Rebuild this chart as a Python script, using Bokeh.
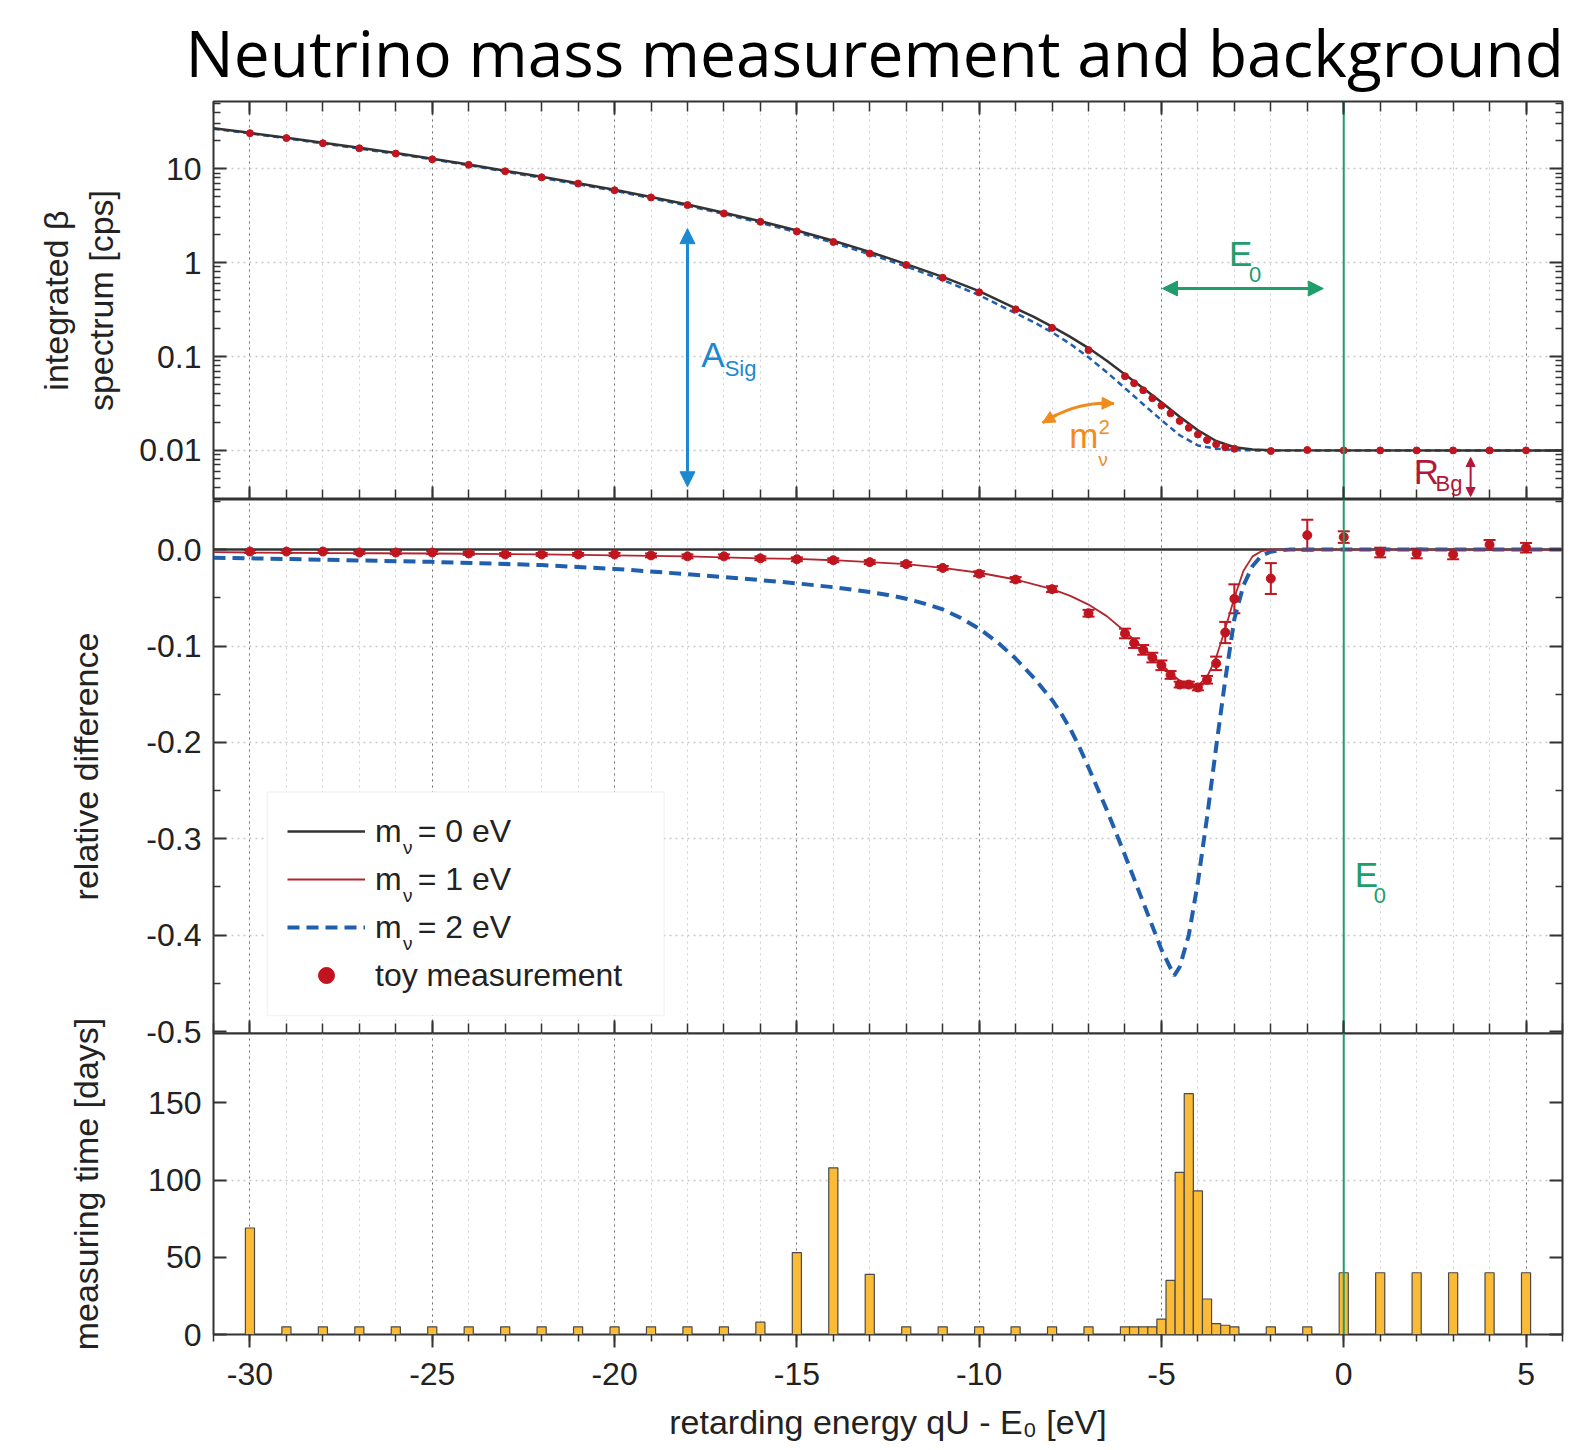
from bokeh.plotting import figure
from bokeh.layouts import column
from bokeh.models import (Range1d, LogAxis, LinearAxis, FixedTicker, Span, Arrow,
                          NormalHead, Label, Legend, LegendItem, Whisker, TeeHead, BoxAnnotation,
                          ColumnDataSource, CustomJSTickFormatter, Grid)
from bokeh.embed import file_html
from bokeh.resources import INLINE

# ---------------- data ----------------
# measurement points: retarding energy qU - E0 [eV]
meas_x = [-30, -29, -28, -27, -26, -25, -24, -23, -22, -21, -20, -19, -18, -17, -16,
          -15, -14, -13, -12, -11, -10, -9, -8, -7,
          -6, -5.75, -5.5, -5.25, -5, -4.75, -4.5, -4.25, -4, -3.75, -3.5, -3.25, -3,
          -2, -1, 0, 1, 2, 3, 4, 5]
# measuring time [days]
meas_time = [69, 5, 5, 5, 5, 5, 5, 5, 5, 5, 5, 5, 5, 5, 8,
             53, 108, 39, 5, 5, 5, 5, 5, 5,
             5, 5, 5, 5, 10, 35, 105, 156, 93, 23, 7, 6, 5,
             5, 5, 40, 40, 40, 40, 40, 40]
# toy measurement: integrated rate [cps]
meas_rate = [23.9, 21.2, 18.7, 16.5, 14.5, 12.6, 11.0, 9.4, 8.1, 6.95, 5.9, 4.94, 4.1, 3.34, 2.72,
             2.15, 1.66, 1.25, 0.945, 0.69, 0.483, 0.318, 0.202, 0.117,
             0.0616, 0.052, 0.0437, 0.036, 0.030, 0.0248, 0.0206, 0.0174, 0.0148, 0.0129, 0.0116, 0.0108, 0.0104,
             0.00985, 0.0101, 0.0100, 0.0100, 0.0100, 0.0100, 0.0100, 0.0100]
# toy measurement: relative difference and its error
meas_rel = [-0.002, -0.002, -0.002, -0.003, -0.003, -0.003, -0.004, -0.005, -0.005, -0.005, -0.005, -0.006, -0.007, -0.007, -0.009,
            -0.010, -0.011, -0.013, -0.015, -0.019, -0.025, -0.031, -0.041, -0.066,
            -0.087, -0.097, -0.104, -0.112, -0.120, -0.130, -0.140, -0.140, -0.143, -0.135, -0.118, -0.086, -0.051,
            -0.030, 0.015, 0.013, -0.003, -0.004, -0.005, 0.005, 0.002]
meas_err = [0.0015, 0.0015, 0.0015, 0.0015, 0.0015, 0.0015, 0.0015, 0.0015, 0.0015, 0.0015, 0.0015, 0.002, 0.002, 0.002, 0.002,
            0.002, 0.002, 0.002, 0.002, 0.002, 0.0025, 0.0025, 0.003, 0.0035,
            0.005, 0.005, 0.005, 0.005, 0.005, 0.004, 0.003, 0.003, 0.003, 0.004, 0.007, 0.011, 0.015,
            0.016, 0.016, 0.006, 0.005, 0.005, 0.005, 0.005, 0.005]

# integrated spectrum, m_nu = 0 eV
m0_top_x = [-31, -30, -29, -28, -27, -26, -25, -24, -23, -22, -21, -20, -19, -18, -17, -16, -15, -14, -13, -12, -11, -10, -9,
            -8.5, -8, -7.5, -7, -6.5, -6, -5.5, -5, -4.5, -4, -3.5, -3, -2.5, -2, 6]
m0_top_y = [27.0, 24.1, 21.4, 18.9, 16.7, 14.7, 12.8, 11.1, 9.5, 8.2, 7.0, 5.97, 5.0, 4.15, 3.4, 2.76, 2.2, 1.71, 1.3, 0.965, 0.705, 0.497, 0.326,
            0.264, 0.208, 0.162, 0.123, 0.090, 0.0645, 0.046, 0.0325, 0.0228, 0.0164, 0.0126, 0.0108, 0.0102, 0.01005, 0.0100]
# integrated spectrum, m_nu = 2 eV
m2_top_x = [-31, -30, -29, -28, -27, -26, -25, -24, -23, -22, -21, -20, -19, -18, -17, -16, -15, -14, -13, -12, -11, -10, -9,
            -8.5, -8, -7.5, -7, -6.5, -6, -5.5, -5, -4.5, -4, -3.5, -3, -2.5, 6]
m2_top_y = [26.7, 23.8, 21.1, 18.6, 16.4, 14.4, 12.6, 10.9, 9.3, 8.0, 6.85, 5.83, 4.87, 4.03, 3.3, 2.66, 2.11, 1.63, 1.23, 0.91, 0.655, 0.45, 0.289,
            0.232, 0.181, 0.136, 0.098, 0.068, 0.046, 0.031, 0.021, 0.0145, 0.0113, 0.0104, 0.0101, 0.0100, 0.0100]

# relative difference curves
m0_rel_x = [-31, 6]
m0_rel_y = [0.0, 0.0]
m1_rel_x = [-31, -30, -28, -25, -22, -20, -18, -16, -15, -14, -13, -12, -11, -10, -9, -8, -7.5, -7, -6.5, -6, -5.5, -5,
            -4.75, -4.5, -4.25, -4.1, -4, -3.75, -3.5, -3.25, -3, -2.75, -2.5, -2.25, -2, 6]
m1_rel_y = [-0.0025, -0.003, -0.0035, -0.004, -0.005, -0.006, -0.007, -0.009, -0.0097, -0.011, -0.013, -0.015, -0.019, -0.024,
            -0.031, -0.041, -0.048, -0.057, -0.069, -0.085, -0.102, -0.119, -0.128, -0.136, -0.141, -0.142, -0.141, -0.132,
            -0.112, -0.082, -0.050, -0.022, -0.007, -0.0015, 0.0, 0.0]
m2_rel_x = [-31, -30, -28, -25, -22, -20, -18, -16, -15, -14, -13, -12.5, -12, -11.5, -11, -10.5, -10, -9.5, -9, -8.5,
            -8, -7.75, -7.5, -7.25, -7, -6.5, -6, -5.5, -5, -4.65, -4.5, -4.25, -4, -3.75, -3.5, -3.25, -3, -2.75,
            -2.5, -2.25, -2, -1.75, -1.5, 6]
m2_rel_y = [-0.0085, -0.009, -0.0105, -0.0127, -0.016, -0.020, -0.0255, -0.0316, -0.035, -0.039, -0.044, -0.047, -0.051,
            -0.056, -0.062, -0.071, -0.082, -0.096, -0.113, -0.133, -0.156, -0.170, -0.186, -0.205, -0.226, -0.270,
            -0.317, -0.366, -0.415, -0.442, -0.433, -0.400, -0.345, -0.278, -0.205, -0.135, -0.072, -0.037,
            -0.017, -0.006, -0.0022, -0.0006, 0.0, 0.0]

x_major = [-30, -25, -20, -15, -10, -5, 0, 5]
x_minor = list(range(-31, 7))
y1_major = [0.01, 0.1, 1, 10]
y1_minor = [m * 10.0 ** e for e in range(-3, 2) for m in range(2, 10)]
y2_major = [0.0, -0.1, -0.2, -0.3, -0.4, -0.5]
y2_minor = [0.05, -0.05, -0.15, -0.25, -0.35, -0.45]
y3_major = [0, 50, 100, 150]

# ---------------- style ----------------
FONT = "Liberation Sans"
DARK = "#333333"
RED = "#c0141e"
RED_LINE = "#b3262f"
BLUE = "#1f5fad"
LBLUE = "#1d88d2"
GREEN = "#1f9d6b"
ORANGE = "#f28b1e"
BGRED = "#b3173a"
BAR = "#fbbb36"
TXT = "#222222"

W = 1568
XR = Range1d(-31, 6)
common = dict(width=W, output_backend="svg", toolbar_location=None, x_range=XR,
              min_border_left=213, min_border_right=6,
              x_axis_location=None, y_axis_location=None)


def style_axis(ax, labels=True, tin=13, minin=9, tout=0, minout=0, size="32px", standoff=12):
    ax.axis_line_color = None
    ax.major_tick_in = tin
    ax.major_tick_out = tout
    ax.minor_tick_in = minin
    ax.minor_tick_out = minout
    ax.major_tick_line_color = DARK
    ax.minor_tick_line_color = DARK
    ax.major_tick_line_width = 2
    ax.minor_tick_line_width = 1.5
    if labels:
        ax.major_label_text_font = FONT
        ax.major_label_text_font_size = size
        ax.major_label_text_color = TXT
        ax.major_label_standoff = standoff
    else:
        ax.formatter = CustomJSTickFormatter(code="return ''")
        ax.major_label_text_font_size = "0px"
        ax.major_label_standoff = 0
    return ax


def add_grids(p, yticks):
    p.xgrid.visible = False
    p.ygrid.visible = False
    p.add_layout(Grid(dimension=0, ticker=FixedTicker(ticks=x_minor), grid_line_color="#d0d0d0",
                      grid_line_dash="dotted", grid_line_width=1))
    p.add_layout(Grid(dimension=0, ticker=FixedTicker(ticks=x_major), grid_line_color="#707070",
                      grid_line_dash="dotted", grid_line_width=1))
    p.add_layout(Grid(dimension=1, ticker=FixedTicker(ticks=yticks), grid_line_color="#c8c8c8",
                      grid_line_dash="dotted", grid_line_width=1.6))
    p.outline_line_color = DARK
    p.outline_line_width = 2
    p.add_layout(Span(location=0, dimension="height", line_color=GREEN, line_width=2, level="glyph"))


def xticker():
    return FixedTicker(ticks=x_major, minor_ticks=x_minor)


def axis_label(ax, text, standoff, size="34px"):
    ax.axis_label = text
    ax.axis_label_text_font = FONT
    ax.axis_label_text_font_size = size
    ax.axis_label_text_font_style = "normal"
    ax.axis_label_text_color = TXT
    ax.axis_label_standoff = standoff


def text(p, x, y, s, color, size, baseline="bottom"):
    p.add_layout(Label(x=x, y=y, text=s, text_color=color, text_font=FONT, text_font_size=size,
                       text_baseline=baseline, level="overlay"))


# ---------------- panel 1: integrated spectrum ----------------
p1 = figure(height=499, y_axis_type="log", y_range=Range1d(0.003, 52),
            min_border_top=100, min_border_bottom=0,
            title="Neutrino mass measurement and background", **common)
p1.title.text_font = "Open Sans"
p1.title.text_font_size = "64px"
p1.title.text_font_style = "normal"
p1.title.text_color = "black"
p1.title.align = "left"
p1.title.offset = -28
p1.title.standoff = 12
add_grids(p1, y1_major)

ax = style_axis(LogAxis(ticker=FixedTicker(ticks=y1_major, minor_ticks=y1_minor),
                        formatter=CustomJSTickFormatter(code="return tick.toString()")), minin=7)
axis_label(ax, "integrated \u03b2\nspectrum [cps]", 16)
p1.add_layout(ax, "left")
p1.add_layout(style_axis(LogAxis(ticker=FixedTicker(ticks=y1_major, minor_ticks=y1_minor)), labels=False, minin=7), "right")
p1.add_layout(style_axis(LinearAxis(ticker=xticker()), labels=False, tin=13, minin=10), "above")
p1.add_layout(style_axis(LinearAxis(ticker=xticker()), labels=False, tin=13, minin=10), "below")

p1.line(m2_top_x, m2_top_y, line_color=BLUE, line_width=2.5, line_dash="6 4")
p1.line(m0_top_x, m0_top_y, line_color=DARK, line_width=2.5)
p1.scatter(meas_x, meas_rate, size=7, fill_color=RED, line_color=RED)

# annotations, panel 1
p1.add_layout(Arrow(x_start=-18, y_start=2.3, x_end=-18, y_end=0.0041, line_color=LBLUE, line_width=3,
                    start=NormalHead(size=15, fill_color=LBLUE, line_color=LBLUE),
                    end=NormalHead(size=15, fill_color=LBLUE, line_color=LBLUE)))
text(p1, -17.62, 0.0647, "A", LBLUE, "35px")
text(p1, -16.98, 0.0544, "Sig", LBLUE, "22px")

p1.add_layout(Arrow(x_start=-4.97, y_start=0.53, x_end=-0.56, y_end=0.53, line_color=GREEN, line_width=3,
                    start=NormalHead(size=15, fill_color=GREEN, line_color=GREEN),
                    end=NormalHead(size=15, fill_color=GREEN, line_color=GREEN)))
text(p1, -3.15, 0.778, "E", GREEN, "35px")
text(p1, -2.6, 0.623, "0", GREEN, "22px")

p1.quadratic(x0=[-8.26], y0=[0.0197], x1=[-6.30], y1=[0.0316], cx=[-7.32], cy=[0.0339],
             line_color=ORANGE, line_width=3)
p1.add_layout(Arrow(x_start=-7.88, y_start=0.0239, x_end=-8.26, y_end=0.0197, line_color=ORANGE, line_width=3,
                    end=NormalHead(size=12, fill_color=ORANGE, line_color=ORANGE)))
p1.add_layout(Arrow(x_start=-6.70, y_start=0.0318, x_end=-6.30, y_end=0.0316, line_color=ORANGE, line_width=3,
                    end=NormalHead(size=12, fill_color=ORANGE, line_color=ORANGE)))
text(p1, -7.53, 0.00889, "m", ORANGE, "35px")
text(p1, -6.72, 0.01493, "2", ORANGE, "20px")
text(p1, -6.73, 0.00614, "\u03bd", ORANGE, "19px")

text(p1, 1.92, 0.00367, "R", BGRED, "35px")
text(p1, 2.52, 0.00324, "Bg", BGRED, "22px")
p1.add_layout(Arrow(x_start=3.48, y_start=0.0084, x_end=3.48, y_end=0.00323, line_color=BGRED, line_width=2,
                    start=NormalHead(size=9, fill_color=BGRED, line_color=BGRED),
                    end=NormalHead(size=9, fill_color=BGRED, line_color=BGRED)))

# ---------------- panel 2: relative difference ----------------
# 20px of canvas below the frame, so that the "-0.5" label is not cut; panel 3 overlaps it
p2 = figure(height=554, y_range=Range1d(-0.502, 0.052), min_border_top=0, min_border_bottom=20, **common)
add_grids(p2, [-0.1, -0.2, -0.3, -0.4])
ax = style_axis(LinearAxis(ticker=FixedTicker(ticks=y2_major, minor_ticks=y2_minor),
                           formatter=CustomJSTickFormatter(code="return tick.toFixed(1);")), minin=7)
axis_label(ax, "relative difference", 38)
p2.add_layout(ax, "left")
p2.add_layout(style_axis(LinearAxis(ticker=FixedTicker(ticks=y2_major, minor_ticks=y2_minor)), labels=False, minin=7), "right")
p2.add_layout(style_axis(LinearAxis(ticker=xticker()), labels=False, tin=13, minin=10), "below")

r0 = p2.line(m0_rel_x, m0_rel_y, line_color=DARK, line_width=2.5)
r2 = p2.line(m2_rel_x, m2_rel_y, line_color=BLUE, line_width=4, line_dash="12 7")
r1 = p2.line(m1_rel_x, m1_rel_y, line_color=RED_LINE, line_width=1.8)
err_src = ColumnDataSource(dict(x=meas_x,
                                lower=[v - e for v, e in zip(meas_rel, meas_err)],
                                upper=[v + e for v, e in zip(meas_rel, meas_err)]))
p2.add_layout(Whisker(source=err_src, base="x", lower="lower", upper="upper", dimension="height",
                      line_color=RED, line_width=2,
                      lower_head=TeeHead(size=12, line_color=RED, line_width=2),
                      upper_head=TeeHead(size=12, line_color=RED, line_width=2)))
rp = p2.scatter(meas_x, meas_rel, size=9, fill_color=RED, line_color=RED)

# legend box (drawn as an annotation so that the subscripts can sit on top of it)
p2.add_layout(BoxAnnotation(left=-29.52, right=-18.64, top=-0.2515, bottom=-0.4834,
                            fill_color="white", fill_alpha=1.0, line_color="#dcdcdc", line_width=1.5,
                            level="annotation"))
legend = Legend(items=[LegendItem(label="m\u2002= 0 eV", renderers=[r0]),
                       LegendItem(label="m\u2002= 1 eV", renderers=[r1]),
                       LegendItem(label="m\u2002= 2 eV", renderers=[r2]),
                       LegendItem(label="toy measurement", renderers=[rp])],
                location=(54, 18), label_text_font=FONT, label_text_font_size="32px",
                label_text_color=TXT, glyph_width=78, glyph_height=40, label_height=40,
                label_standoff=10, spacing=8, padding=20, label_width=268,
                border_line_color="white", border_line_alpha=0.0, background_fill_alpha=0.0)
p2.add_layout(legend)
for yy in (-0.3088, -0.3586, -0.4084):
    text(p2, -25.80, yy, "\u03bd", TXT, "19px", baseline="alphabetic")

text(p2, 0.30, -0.3570, "E", GREEN, "35px")
text(p2, 0.82, -0.3662, "0", GREEN, "22px")

# ---------------- panel 3: measuring time ----------------
p3 = figure(height=430, y_range=Range1d(0, 195), min_border_top=20, min_border_bottom=104,
            margin=(-40, 0, 0, 0), **common)
p3.border_fill_alpha = 0.0
add_grids(p3, [100])
ax = style_axis(LinearAxis(ticker=FixedTicker(ticks=y3_major)))
axis_label(ax, "measuring time [days]", 40)
p3.add_layout(ax, "left")
p3.add_layout(style_axis(LinearAxis(ticker=FixedTicker(ticks=y3_major)), labels=False), "right")
axb = style_axis(LinearAxis(ticker=xticker(), formatter=CustomJSTickFormatter(code="return tick.toString()")),
                 tin=0, minin=0, tout=13, minout=7, standoff=15)
axis_label(axb, "retarding energy qU - E\u2080 [eV]", 15)
p3.add_layout(axb, "below")

p3.vbar(x=meas_x, top=meas_time, width=0.25, bottom=0, fill_color=BAR, line_color="#4a4a4a", line_width=1.2)

layout = column(p1, p2, p3, spacing=0)
open("out.html", "w").write(file_html(layout, INLINE, "Neutrino mass measurement and background"))
